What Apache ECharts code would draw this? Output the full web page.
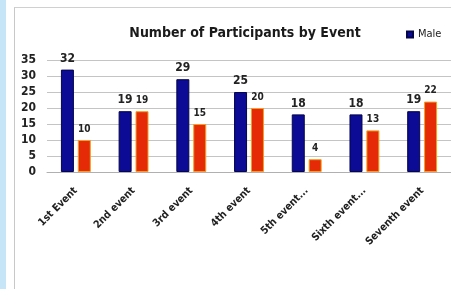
<!DOCTYPE html>
<html><head><meta charset="utf-8">
<script src="https://cdn.jsdelivr.net/npm/echarts@6/dist/echarts.min.js"></script>
<style>
html,body{margin:0;padding:0;background:#fff;}
#strip{position:absolute;left:0;top:0;width:6px;height:289px;background:#c6e6f8;}
#frame{position:absolute;left:14px;top:7px;width:460px;height:300px;border-left:1.5px solid #c8c8c8;border-top:1.5px solid #d0d0d0;}
#chart{position:absolute;left:0;top:0;width:451px;height:289px;}
</style></head>
<body>
<div id="strip"></div><div id="frame"></div>
<div id="chart"></div>
<script>
var categories = ['1st Event','2nd event','3rd event','4th event','5th event...','Sixth event...','Seventh event'];
var maleValues = [32,19,29,25,18,18,19];
var femaleValues = [10,19,15,20,4,13,22];
var yTicks = [0,5,10,15,20,25,30,35];

var FONT = '"Liberation Sans Narrow","DejaVu Sans Condensed","Open Sans",sans-serif';
var chart = echarts.init(document.getElementById('chart'), null, {renderer:'canvas'});
chart.setOption({
  animation:false,
  backgroundColor:'transparent',
  title:{text:'Number of Participants by Event',left:240,textAlign:'center',top:21,
    textStyle:{fontFamily:FONT,fontSize:14,fontWeight:'bold',color:'#1a1a1a'}},
  legend:{data:['Male'],left:401,top:24,itemWidth:6,itemHeight:6,itemGap:3,
    icon:'rect',textStyle:{fontFamily:FONT,fontSize:11,color:'#222'}},
  grid:{left:47,right:-1,top:60,bottom:117,containLabel:false},
  xAxis:{type:'category',data:categories,
    axisLine:{lineStyle:{color:'#b0b0b0'}},axisTick:{show:false},
    axisLabel:{rotate:45,interval:0,margin:17,fontFamily:FONT,fontSize:10.5,fontWeight:'bold',color:'#222'}},
  yAxis:{type:'value',min:0,max:35,interval:5,
    axisLine:{show:false},axisTick:{show:false},
    splitLine:{lineStyle:{color:'#c4c4c4',width:1}},
    axisLabel:{margin:11,fontFamily:FONT,fontSize:12,fontWeight:'bold',color:'#222',
      formatter:function(v){return yTicks.indexOf(v)>=0?String(v):'';}}},
  series:[
    {name:'Male',type:'bar',data:maleValues,barWidth:13,barGap:'30%',
     itemStyle:{color:'#0b0b96',borderColor:'#05054a',borderWidth:1},
     label:{show:true,position:'top',distance:5,fontFamily:FONT,fontSize:12,fontWeight:'bold',color:'#222'}},
    {name:'Female',type:'bar',data:femaleValues,barWidth:13,
     itemStyle:{color:'#e42a06',borderColor:'#f2a01e',borderWidth:1},
     label:{show:true,position:'top',distance:6,fontFamily:FONT,fontSize:10,fontWeight:'bold',color:'#222'}}
  ]
});
</script>
</body></html>
